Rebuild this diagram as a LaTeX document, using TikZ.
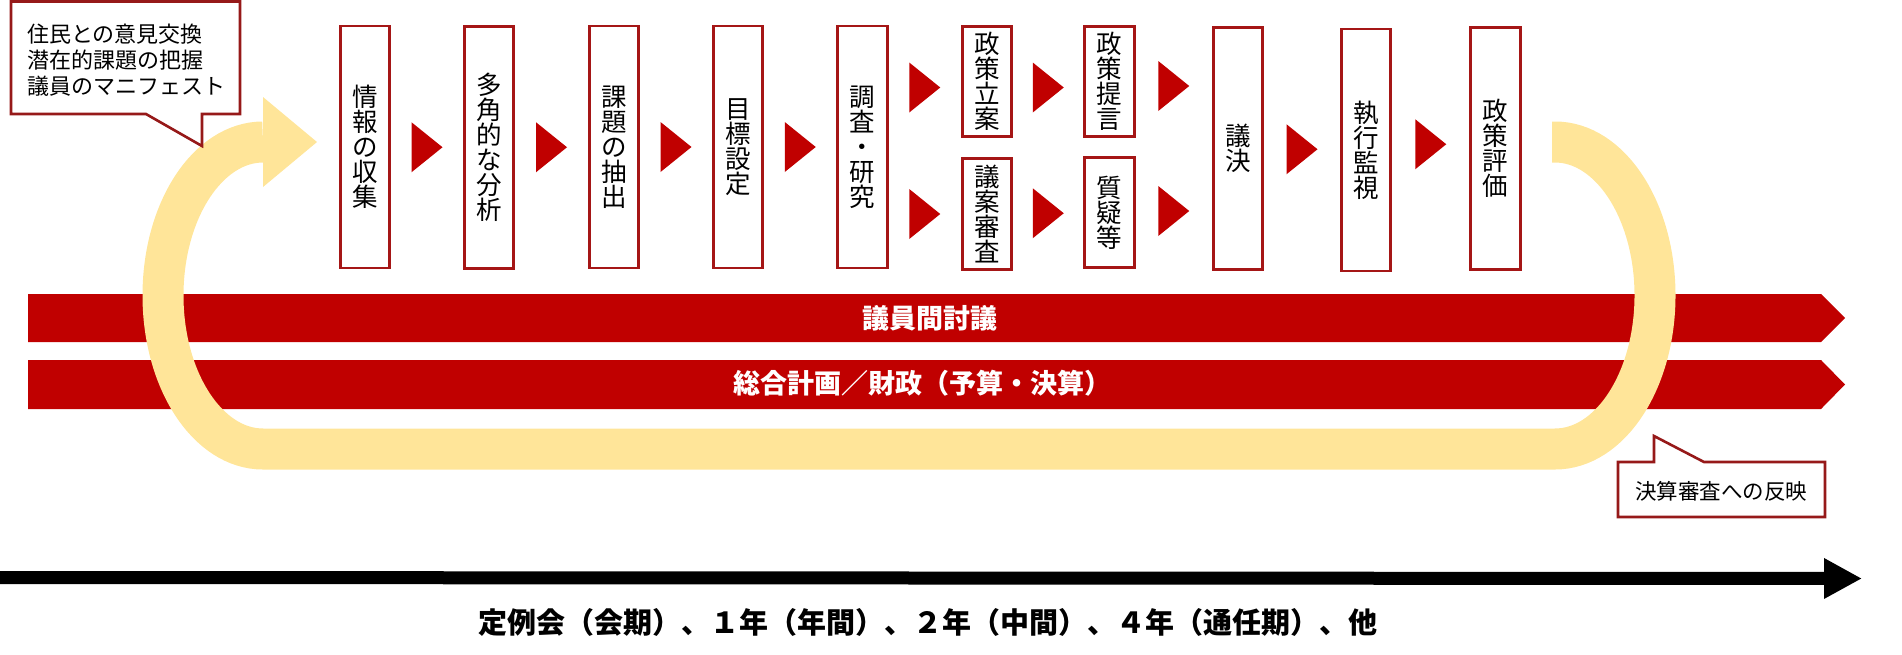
\documentclass[tikz,border=0pt]{standalone}
\usepackage{fontspec}
\newfontfamily\jp{Noto Sans CJK JP}
\usetikzlibrary{arrows.meta,calc}
\definecolor{barred}{RGB}{192,0,0}
\definecolor{boxred}{RGB}{165,22,22}
\definecolor{callred}{RGB}{150,25,25}
\definecolor{loopyel}{RGB}{255,229,153}
\begin{document}
\begin{tikzpicture}[x=1pt,y=1pt,
  vbox/.style={draw=boxred, line width=2.6pt, fill=white, inner sep=0pt,
    minimum width=49.5pt, align=center, font=\jp\fontsize{25.5}{25}\selectfont},
  tallbox/.style={vbox, minimum height=242pt},
  shortbox/.style={vbox, minimum height=110.5pt},
  bartext/.style={text=white, inner sep=0pt, font=\jp\bfseries\fontsize{27}{30}\selectfont},
  callout/.style={fill=white, draw=callred, line width=2.6pt, line join=miter},
  redtri/.pic={\fill[barred] (-15.5,25) -- (15.5,0) -- (-15.5,-25) -- cycle;}
]
\useasboundingbox (0,0) rectangle (1902,-654);

% process boxes
\node[tallbox] (b1) at (365,-147) {情\\報\\の\\収\\集};
\node[tallbox] (b2) at (489,-147.5) {多\\角\\的\\な\\分\\析};
\node[tallbox] (b3) at (614,-147) {課\\題\\の\\抽\\出};
\node[tallbox] (b4) at (738,-147) {目\\標\\設\\定};
\node[tallbox] (b5) at (862.5,-147) {調\\査\\・\\研\\究};
\node[shortbox] (b6a) at (987,-81.5) {政\\策\\立\\案};
\node[shortbox] (b6b) at (987,-214) {議\\案\\審\\査};
\node[shortbox] (b7a) at (1109.5,-81.5) {政\\策\\提\\言};
\node[shortbox] (b7b) at (1109.5,-212.5) {質\\疑\\等};
\node[tallbox] (b8) at (1238,-148.5) {議\\決};
\node[tallbox] (b9) at (1366,-150) {執\\行\\監\\視};
\node[tallbox] (b10) at (1495.5,-148.5) {政\\策\\評\\価};

% red triangles between boxes
\pic (t1) at ($(b1.east)!.5!(b2.west)$) {redtri};
\pic (t2) at ($(b2.east)!.5!(b3.west)$) {redtri};
\pic (t3) at ($(b3.east)!.5!(b4.west)$) {redtri};
\pic (t4) at ($(b4.east)!.5!(b5.west)$) {redtri};
\pic (t5a) at ($(b6a.west)!.5!(b6a.west -| b5.east)+(0,-6)$) {redtri};
\pic (t5b) at ($(b6b.west)!.5!(b6b.west -| b5.east)$) {redtri};
\pic (t6a) at ($(b6a.east)!.5!(b7a.west)+(0,-6)$) {redtri};
\pic (t6b) at ($(b6b.east)!.5!(b7b.west)$) {redtri};
\pic (t7a) at ($(b7a.east)!.5!(b7a.east -| b8.west)+(0,-4.5)$) {redtri};
\pic (t7b) at ($(b7b.east)!.5!(b7b.east -| b8.west)+(0,1.5)$) {redtri};
\pic (t8) at ($(b8.east)!.5!(b9.west)$) {redtri};
\pic (t9) at ($(b9.east)!.5!(b10.west)+(0,5)$) {redtri};

% long red bars
\fill[barred] (28,-294) -- (1821,-294) -- (1845,-318) -- (1821,-342) -- (28,-342) -- cycle;
\node[bartext] (bar1) at (930,-318) {議員間討議};
\fill[barred] (28,-360) -- (1821,-360) -- (1845,-384.5) -- (1821,-409) -- (28,-409) -- cycle;
\node[bartext] (bar2) at (922,-383) {総合計画／財政（予算・決算）};

% yellow feedback loop
\coordinate (loopstart) at (1552,-142);
\coordinate (loopend) at (263,-142);
\draw[loopyel, line width=41pt] (loopstart) -- (1555,-142)
  arc[start angle=90, end angle=-90, x radius=100, y radius=153.5]
  -- (263,-449)
  arc[start angle=270, end angle=90, x radius=100, y radius=153.5] -- (loopend);
\fill[loopyel] ($(loopend)+(0,45)$) -- ($(loopend)+(54,0)$) -- ($(loopend)+(0,-45)$) -- cycle;

% callouts
\draw[callout] (11,-1.5) -- (240,-1.5) -- (240,-114) -- (202,-114) -- (202,-146)
  -- (146,-114) -- (11,-114) -- cycle;
\node[font=\jp\fontsize{22}{26}\selectfont, align=left, anchor=west, inner sep=0pt]
  (c1) at (27,-60) {住民との意見交換\\潜在的課題の把握\\議員のマニフェスト};

\draw[callout] (1618,-462) -- (1654,-462) -- (1654,-436) -- (1704,-462)
  -- (1825,-462) -- (1825,-517) -- (1618,-517) -- cycle;
\node[font=\jp\fontsize{21.5}{24}\selectfont, inner sep=0pt] (c2) at (1721,-491) {決算審査への反映};

% time axis
\coordinate (axs) at (0,-577.5);
\coordinate (axe) at (1862,-578.5);
\draw[line width=13pt, -{Triangle[length=38pt, width=38pt]}] (axs) -- (axe);
\node[font=\jp\bfseries\fontsize{29}{32}\selectfont, inner sep=0pt] (axlabel) at (928,-622)
  {定例会（会期）、１年（年間）、２年（中間）、４年（通任期）、他};
\end{tikzpicture}
\end{document}
